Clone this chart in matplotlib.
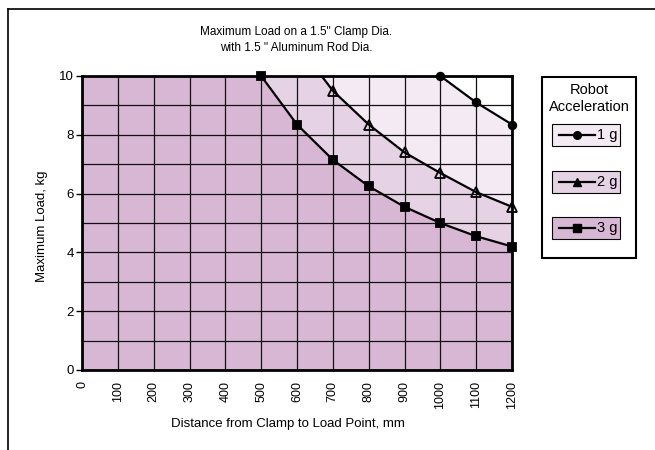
import numpy as np
import matplotlib.pyplot as plt
from matplotlib.patches import Rectangle
from matplotlib.lines import Line2D

plt.rcParams['font.family'] = ['Liberation Sans', 'DejaVu Sans']
plt.rcParams['font.size'] = 9

# data (values above 10 run off the top and are clipped)
dist = np.array([100, 200, 300, 400, 500, 600, 700, 800, 900, 1000, 1100, 1200])
load_1g = np.array([100, 50, 33.3, 25, 20, 16.7, 14.3, 12.5, 11.1, 10.0, 9.1, 8.35])
load_2g = np.array([66.7, 33.3, 22.2, 16.7, 13.3, 11.1, 9.5, 8.35, 7.4, 6.7, 6.05, 5.55])
load_3g = np.array([50, 25, 16.7, 12.5, 10.0, 8.35, 7.15, 6.25, 5.55, 5.0, 4.55, 4.2])

series = [("1 g", load_1g, "o", "#F3EAF3"),
          ("2 g", load_2g, "^", "#E5D3E5"),
          ("3 g", load_3g, "s", "#D8B7D4")]

x_ticks = np.arange(0, 1300, 100)
y_ticks = np.arange(0, 12, 2)

W, H = 655, 450
fig = plt.figure(figsize=(W / 100, H / 100), dpi=100)
ax = fig.add_axes([82 / W, 1 - 370 / H, 430 / W, 294 / H])

for name, y, m, col in series:
    # area from x=0 (first value is already off the top)
    xx = np.r_[0, dist]
    yy = np.r_[y[0], y]
    ax.fill_between(xx, yy, 0, color=col, lw=0, zorder=1)

for name, y, m, col in series:
    ax.plot(dist, y, color="black", lw=1.6, zorder=3)
    keep = y <= 10.0
    mfc = "none" if m == "^" else "black"
    ax.plot(dist[keep], y[keep], ls="none", marker=m, ms=5.5 if m != "^" else 6.5,
            mfc=mfc, mec="black", mew=1.3, color="black", zorder=4, clip_on=False)

ax.set_xlim(0, 1200)
ax.set_ylim(0, 10)
ax.set_xticks(x_ticks)
ax.set_xticklabels([str(v) for v in x_ticks], rotation=90, va="top")
ax.set_yticks(y_ticks)
ax.set_yticks(np.arange(1, 10, 2), minor=True)
ax.grid(True, which="both", color="#111111", lw=0.9)
ax.tick_params(axis="x", length=0, pad=8, labelsize=9)
ax.tick_params(axis="y", which="major", length=4, width=1, pad=2, labelsize=9.5)
ax.tick_params(axis="y", which="minor", length=0)
ax.set_facecolor("white")
for s in ax.spines.values():
    s.set_linewidth(2)
    s.set_zorder(5)

# overlay for frame, titles and legend, in pixel coordinates
ov = fig.add_axes([0, 0, 1, 1], zorder=10)
ov.set_xlim(0, W)
ov.set_ylim(H, 0)
ov.axis("off")
ov.patch.set_alpha(0)

ov.plot([8, 8], [9, H + 5], color="black", lw=1.2, clip_on=False)
ov.plot([8, W + 5], [9, 9], color="black", lw=1.2, clip_on=False)

ov.text(296, 32, 'Maximum Load on a 1.5" Clamp Dia.', ha="center", va="center", fontsize=8.5)
ov.text(296, 48, 'with 1.5 " Aluminum Rod Dia.', ha="center", va="center", fontsize=8.5)
ov.text(42, 226, "Maximum Load, kg", ha="center", va="center", rotation=90, fontsize=9.5)
ov.text(288, 424, "Distance from Clamp to Load Point, mm", ha="center", va="center", fontsize=9.5)

# legend
ov.add_patch(Rectangle((542, 77), 94, 181, fill=False, ec="black", lw=1.5))
ov.text(589, 90, "Robot", ha="center", va="center", fontsize=10.5)
ov.text(589, 107, "Acceleration", ha="center", va="center", fontsize=10.5)
box_tops = [124, 171, 217]
for (name, y, m, col), top in zip(series, box_tops):
    ov.add_patch(Rectangle((552, top), 68, 22, fc=col, ec="black", lw=0.8))
    cy = top + 11
    ov.add_line(Line2D([559, 595], [cy, cy], color="black", lw=1.6))
    ov.plot([577], [cy], marker=m, ms=5.5, color="black", mec="black")
    ov.text(597, cy, name, ha="left", va="center", fontsize=10.5)

fig.savefig("out.png", dpi=100)
